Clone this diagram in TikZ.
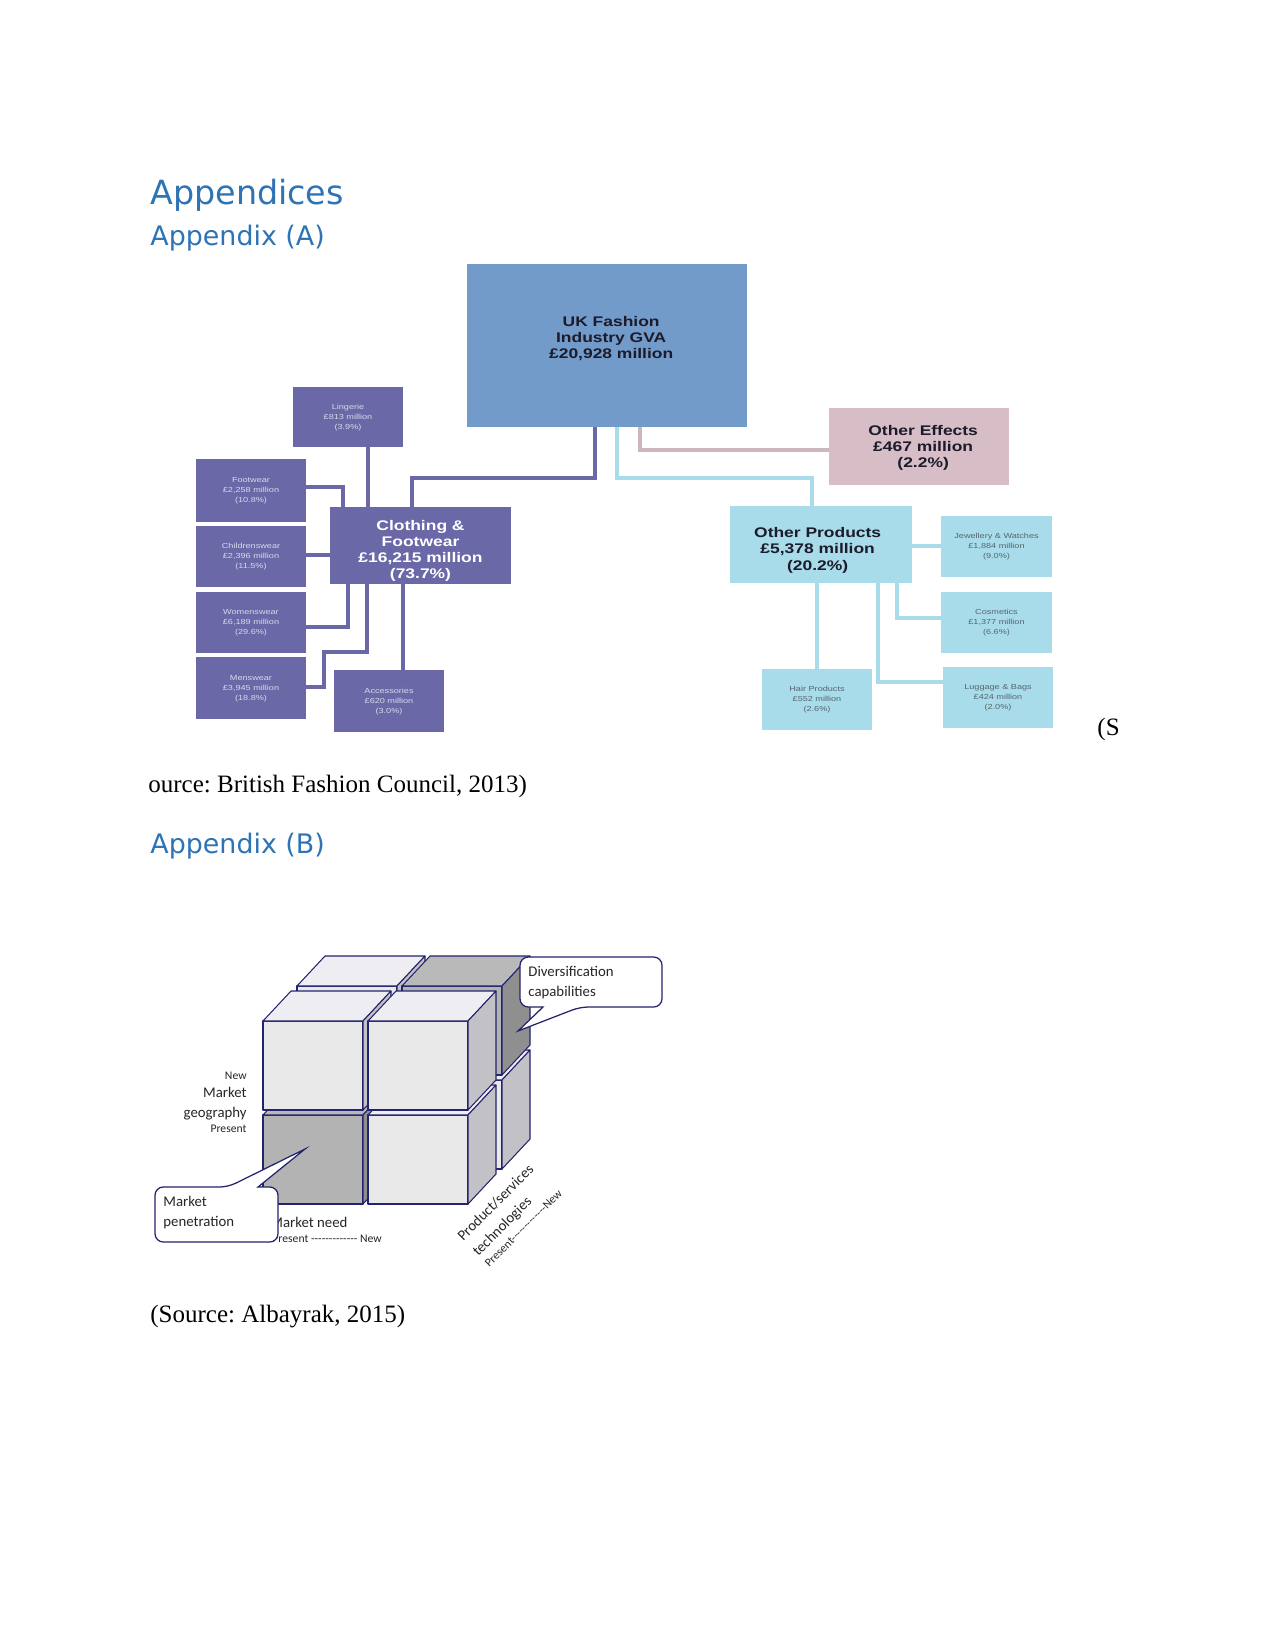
\documentclass[tikz,border=0pt]{standalone}
\usepackage{fontspec}
\usepackage{graphicx}
\setmainfont{Liberation Serif}
\newfontfamily\arialf{Liberation Sans}
\newfontfamily\headf{DejaVu Sans}
\newfontfamily\calf{Carlito}
\definecolor{ukblue}{HTML}{729BC9}
\definecolor{purp}{HTML}{6B68A7}
\definecolor{purpt}{HTML}{D9D9EA}
\definecolor{pinkb}{HTML}{D6BDC6}
\definecolor{pinkl}{HTML}{CDB6BF}
\definecolor{cyanb}{HTML}{A8DCEA}
\definecolor{cyant}{HTML}{55656C}
\definecolor{darkt}{HTML}{1B1B2B}
\definecolor{headblue}{HTML}{2E74B5}
\definecolor{cubeedge}{HTML}{23236E}
\definecolor{cfront}{HTML}{E9E9EA}
\definecolor{ctop}{HTML}{EEEEF2}
\definecolor{cside}{HTML}{C2C2C6}
\definecolor{dfront}{HTML}{B3B3B3}
\definecolor{dtop}{HTML}{B9B9B9}
\definecolor{dside}{HTML}{8F8F8F}
\newcommand\wbox[1]{\scalebox{1.25}[1]{\begin{tabular}{@{}c@{}}#1\end{tabular}}}
\newcommand\dashrun{-{}-{}-{}-{}-{}-{}-{}-{}-{}-{}-{}-{}-}
\newcommand\cubeblk[5]{%
  \filldraw[cubeline,fill=#3] (#1,#2) -- ++(100,0) -- ++(0,-89) -- ++(-100,0) -- cycle;
  \filldraw[cubeline,fill=#4] (#1,#2) ++(0,-89) -- ++(28,-30) -- ++(100,0) -- ++(-28,30) -- cycle;
  \filldraw[cubeline,fill=#5] (#1,#2) ++(100,0) -- ++(28,-30) -- ++(0,-89) -- ++(-28,30) -- cycle;
}
\tikzset{
  bx/.style 2 args={minimum width=#1*0.48pt, minimum height=#2*0.48pt, inner sep=0pt, outer sep=0pt, draw=none},
  pbox/.style={fill=purp, text=purpt, font=\arialf\fontsize{3.5}{4.8}\selectfont},
  cbox/.style={fill=cyanb, text=cyant, font=\arialf\fontsize{3.5}{4.8}\selectfont},
  bigtext/.style={font=\arialf\bfseries\fontsize{6.7}{7.7}\selectfont, inner sep=0pt},
  plink/.style={draw=purp, line width=1.9pt},
  clink/.style={draw=cyanb, line width=1.9pt},
  pklink/.style={draw=pinkl, line width=1.9pt},
  head/.style={text=headblue, inner sep=0pt, anchor=base west},
  body/.style={font=\fontsize{12}{14}\selectfont, inner sep=0pt, anchor=base west},
  cubeline/.style={draw=cubeedge, line width=0.5pt, line join=round},
  callout/.style={draw=cubeedge, fill=white, line width=0.6pt},
  cal/.style={font=\calf\fontsize{7.1}{9.6}\selectfont, text=black!85, inner sep=0pt},
  calsm/.style={font=\calf\fontsize{5.6}{7}\selectfont, text=black!85, inner sep=0pt}
}
\begin{document}
\frenchspacing
\begin{tikzpicture}[x=0.48pt,y=-0.48pt]
\useasboundingbox (0,0) rectangle (1275,1651);
\fill[white] (0,0) rectangle (1275,1651);

% headings and body text
\node[head, font=\headf\fontsize{16}{19}\selectfont] (h1) at (150,205) {Appendices};
\node[head, font=\headf\fontsize{12.9}{15}\selectfont] (h2) at (150,246) {Appendix (A)};
\node[body] (srcS) at (1097,735) {(S};
\node[body] (srcA) at (148,792) {ource: British Fashion Council, 2013)};
\node[head, font=\headf\fontsize{12.9}{15}\selectfont] (h3) at (150,853) {Appendix (B)};
\node[body] (srcB) at (150,1322) {(Source: Albayrak, 2015)};

% ---------- Appendix A chart ----------
\node[bx={280}{163}, fill=ukblue] (uk) at (607,345.5) {};
\node[bigtext, text=darkt] (ukt) at ([xshift=2pt,yshift=2.8pt]uk.center) {\wbox{UK Fashion\\Industry GVA\\£20,928 million}};

\node[bx={180}{77}, fill=pinkb] (effects) at (919,446.5) {};
\node[bigtext, text=darkt] (effectst) at ([xshift=2pt,yshift=-1pt]effects.center) {\wbox{Other Effects\\£467 million\\(2.2\%)}};
\node[bx={181}{77}, fill=purp] (clothing) at (420.5,545.5) {};
\node[bigtext, text=white] (clothingt) at ([yshift=-2.6pt]clothing.center) {\wbox{Clothing \&\\Footwear\\£16,215 million\\(73.7\%)}};
\node[bx={182}{77}, fill=cyanb] (products) at (821,544.5) {};
\node[bigtext, text=darkt] (productst) at ([xshift=-1.6pt,yshift=-3pt]products.center) {\wbox{Other Products\\£5,378 million\\(20.2\%)}};

\node[bx={110}{60}, pbox] (lingerie) at (348,417) {\wbox{Lingerie\\£813 million\\(3.9\%)}};
\node[bx={110}{63}, pbox] (footwear) at (251,490.5) {\wbox{Footwear\\£2,258 million\\(10.8\%)}};
\node[bx={110}{61}, pbox] (childrens) at (251,556.5) {\wbox{Childrenswear\\£2,396 million\\(11.5\%)}};
\node[bx={110}{61}, pbox] (womens) at (251,622.5) {\wbox{Womenswear\\£6,189 million\\(29.6\%)}};
\node[bx={110}{62}, pbox] (mens) at (251,688) {\wbox{Menswear\\£3,945 million\\(18.8\%)}};
\node[bx={110}{62}, pbox] (accessories) at (389,701) {\wbox{Accessories\\£620 million\\(3.0\%)}};

\node[bx={111}{61}, cbox] (jewellery) at (996.5,546.5) {\wbox{Jewellery \& Watches\\£1,884 million\\(9.0\%)}};
\node[bx={111}{61}, cbox] (cosmetics) at (996.5,622.5) {\wbox{Cosmetics\\£1,377 million\\(6.6\%)}};
\node[bx={110}{61}, cbox] (hair) at (817,699.5) {\wbox{Hair Products\\£552 million\\(2.6\%)}};
\node[bx={110}{61}, cbox] (luggage) at (998,697.5) {\wbox{Luggage \& Bags\\£424 million\\(2.0\%)}};

% connectors
\draw[plink] (368,0 |- lingerie.south) -- (368,0 |- clothing.north);
\draw[plink] (footwear.east |- 0,487) -- (343,487) -- (343,0 |- clothing.north);
\draw[plink] (childrens.east |- 0,555) -- (clothing.west |- 0,555);
\draw[plink] (348,0 |- clothing.south) -- (348,627) -- (womens.east |- 0,627);
\draw[plink] (367,0 |- clothing.south) -- (367,652) -- (324,652) -- (324,687) -- (mens.east |- 0,687);
\draw[plink] (403,0 |- clothing.south) -- (403,0 |- accessories.north);
\draw[plink] (412,0 |- clothing.north) -- (412,478) -- (595,478) -- (595,0 |- uk.south);
\draw[clink] (617,0 |- uk.south) -- (617,478) -- (812,478) -- (812,0 |- products.north);
\draw[pklink] (640,0 |- uk.south) -- (640,450) -- (effects.west |- 0,450);
\draw[clink] (products.east |- 0,546) -- (jewellery.west |- 0,546);
\draw[clink] (897,0 |- products.south) -- (897,618) -- (cosmetics.west |- 0,618);
\draw[clink] (878,0 |- products.south) -- (878,682) -- (luggage.west |- 0,682);
\draw[clink] (817,0 |- products.south) -- (817,0 |- hair.north);

% ---------- Appendix B cube ----------
% back layer
\cubeblk{297}{1169}{cfront}{ctop}{cside}
\cubeblk{402}{1169}{cfront}{ctop}{cside}
\cubeblk{297}{1075}{cfront}{ctop}{cside}
\cubeblk{402}{1075}{dfront}{dtop}{dside}
% front layer
\cubeblk{263}{1204}{dfront}{dtop}{dside}
\cubeblk{368}{1204}{cfront}{ctop}{cside}
\cubeblk{263}{1110}{cfront}{ctop}{cside}
\cubeblk{368}{1110}{cfront}{ctop}{cside}

% axis labels
\node[calsm, anchor=base east] (gnew) at (247,1079) {New};
\node[cal, anchor=base east] (gmk) at (247,1097) {Market};
\node[cal, anchor=base east] (ggeo) at (247,1117) {geography};
\node[calsm, anchor=base east] (gpr) at (247,1132) {Present};

\node[cal, anchor=base west] (mneed) at (270,1227) {Market need};
\node[calsm, anchor=base west] (mscale) at (272,1242) {Present \dashrun\ New};

\node[cal, anchor=base west, rotate=45] (pst) at (463,1242) {Product/services};
\node[cal, anchor=base west, rotate=45] (tech) at (478,1257) {technologies};
\node[calsm, anchor=base west, rotate=45] (tscale) at (489,1268) {Present\dashrun New};

% callouts
\draw[callout] (520,985) [rounded corners=4pt] -- (520,957) -- (662,957) -- (662,1007) -- (580,1007) [sharp corners] -- (518,1031) -- (543,1007) [rounded corners=4pt] -- (520,1007) -- cycle;
\node[cal, anchor=north west, align=left] (divt) at (528,966) {Diversification\\capabilities};

\draw[callout] (155,1215) [rounded corners=4pt] -- (155,1187) -- (228,1187) [sharp corners] -- (305,1149) -- (258,1187) [rounded corners=4pt] -- (278,1187) -- (278,1242) -- (155,1242) -- cycle;
\node[cal, anchor=north west, align=left] (pent) at (163,1196) {Market\\penetration};
\end{tikzpicture}
\end{document}
